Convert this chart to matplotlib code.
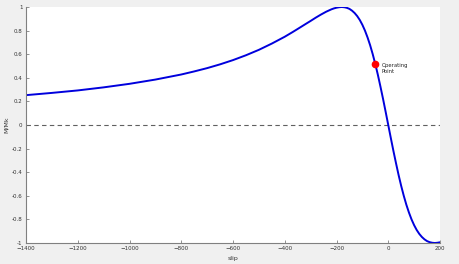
import matplotlib.pyplot as plt

# torque/slip curve, values
slip = [-1400, -1300, -1200, -1100, -1000, -900, -800, -750, -700, -650,
        -600, -550, -500, -450, -400, -370, -350, -320, -300, -280, -260,
        -240, -220, -210, -200, -190, -180, -170, -160, -150, -140, -130,
        -120, -110, -100, -90, -80, -70, -60, -50, -40, -30, -20, -10, 0,
        10, 20, 30, 40, 50, 60, 70, 80, 90, 100, 110, 120, 130, 140, 150,
        160, 170, 180, 190, 200]
torque = [0.253, 0.272, 0.293, 0.319, 0.349, 0.385, 0.428, 0.454, 0.482,
          0.514, 0.550, 0.591, 0.637, 0.690, 0.748, 0.787, 0.814, 0.855,
          0.882, 0.910, 0.936, 0.960, 0.980, 0.988, 0.994, 0.998, 1.000,
          0.998, 0.993, 0.984, 0.969, 0.949, 0.923, 0.890, 0.849, 0.800,
          0.742, 0.676, 0.600, 0.516, 0.424, 0.324, 0.220, 0.111, 0.0,
          -0.111, -0.220, -0.324, -0.424, -0.516, -0.600, -0.676, -0.742,
          -0.800, -0.849, -0.890, -0.923, -0.949, -0.969, -0.984, -0.993,
          -0.998, -1.000, -0.998, -0.994]

op_slip = -50
op_torque = 0.517

xticks = list(range(-1400, 201, 200))
yticks = [-1, -0.8, -0.6, -0.4, -0.2, 0, 0.2, 0.4, 0.6, 0.8, 1]
yticklabels = ['-1', '-0.8', '-0.6', '-0.4', '-0.2', '0', '0.2', '0.4', '0.6', '0.8', '1']

fig = plt.figure(figsize=(4.59, 2.64), dpi=100, facecolor='#f0f0f0')
ax = fig.add_axes([26 / 459, 21 / 264, 414 / 459, 236 / 264])
ax.set_facecolor('white')

ax.axhline(0, color='#606060', linestyle=(0, (4, 3)), linewidth=0.8)
ax.plot(slip, torque, color='#0000dd', linewidth=1.4)
ax.plot(op_slip, op_torque, 'o', color='red', markersize=4.5)
ax.text(op_slip + 25, op_torque - 0.04, 'Operating\nPoint', fontsize=3.8,
        va='center', ha='left', color='#222222', linespacing=1.3)

ax.set_xlim(-1400, 200)
ax.set_ylim(-1, 1)
ax.set_xticks(xticks)
ax.set_yticks(yticks)
ax.set_yticklabels(yticklabels)
ax.tick_params(direction='in', length=2.5, width=0.6, labelsize=4,
               colors='#808080', labelcolor='#333333', pad=2.5)
for side in ['top', 'right']:
    ax.spines[side].set_visible(False)
for side in ['left', 'bottom']:
    ax.spines[side].set_color('#808080')
    ax.spines[side].set_linewidth(0.8)

ax.set_xlabel('slip', fontsize=4.5, color='#333333', labelpad=3)
ax.set_ylabel('M/Mk', fontsize=4.5, color='#333333', labelpad=2)

plt.savefig('out.png', dpi=100, facecolor=fig.get_facecolor())
